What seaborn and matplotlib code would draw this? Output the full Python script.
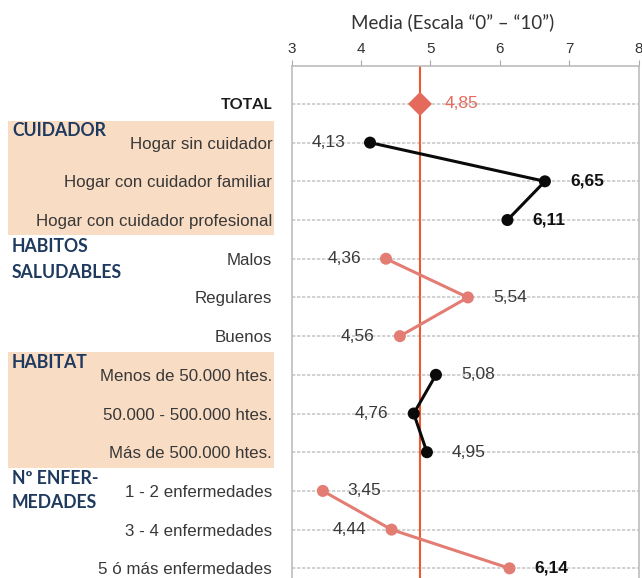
import pandas as pd
import matplotlib.pyplot as plt
import seaborn as sns
from matplotlib.patches import Rectangle

# Data
row_labels = ["TOTAL",
              "Hogar sin cuidador", "Hogar con cuidador familiar", "Hogar con cuidador profesional",
              "Malos", "Regulares", "Buenos",
              "Menos de 50.000 htes.", "50.000 - 500.000 htes.", "Más de 500.000 htes.",
              "1 - 2 enfermedades", "3 - 4 enfermedades", "5 ó más enfermedades"]
total = 4.85
cuidador = [4.13, 6.65, 6.11]
habitos = [4.36, 5.54, 4.56]
habitat = [5.08, 4.76, 4.95]
enfermedades = [3.45, 4.44, 6.14]
x_ticks = [3, 4, 5, 6, 7, 8]
title = "Media (Escala “0” – “10”)"

# label placement / weight per point (rows 1..12)
side = ["L", "R", "R", "L", "R", "L", "R", "L", "R", "R", "L", "R"]
bold = [False, True, True, False, False, False, False, False, False, False, False, True]

groups = ["cuidador", "habitos", "habitat", "enfermedades"]
df = pd.DataFrame({
    "group": [g for g in groups for _ in range(3)],
    "value": cuidador + habitos + habitat + enfermedades,
    "pos": list(range(1, 13)),
})

black = "#0a0a0a"
salmon = "#e37d74"
palette = {"cuidador": black, "habitos": salmon, "habitat": black, "enfermedades": salmon}

sns.set_style("white")
fig = plt.figure(figsize=(6.42, 5.78), dpi=100)
ax = fig.add_axes([291.6 / 642, 0, (638.6 - 291.6) / 642, 1 - 66 / 578])

# shaded group boxes behind the labels
for y0, y1 in [(120.7, 235), (351.7, 467.7)]:
    fig.patches.append(Rectangle((8 / 642, 1 - y1 / 578), 266 / 642, (y1 - y0) / 578,
                                 transform=fig.transFigure, facecolor="#f9dcc4",
                                 edgecolor="none", zorder=-1))

for p in range(len(row_labels)):
    ax.axhline(p, color="#c9c9c9", lw=1.2, ls=(0, (2, 1)), zorder=1)
ax.axvline(total, color="#f0562f", lw=1.5, zorder=2)

sns.lineplot(data=df, x="value", y="pos", hue="group", palette=palette, sort=False,
             estimator=None, lw=2.2, legend=False, ax=ax, zorder=3)
sns.scatterplot(data=df, x="value", y="pos", hue="group", palette=palette, s=75,
                edgecolor="none", legend=False, ax=ax, zorder=4)
sns.scatterplot(x=[total], y=[0], marker="D", s=150, color="#e46a5c", edgecolor="none",
                ax=ax, zorder=4)

ax.annotate(f"{total:.2f}".replace(".", ","), (total, 0), xytext=(18, 0),
            textcoords="offset points", ha="left", va="center", fontsize=12.5,
            color="#e46a5c", family="Liberation Sans")
for i, row in df.iterrows():
    dx = 18 if side[i] == "R" else -18
    ax.annotate(f"{row['value']:.2f}".replace(".", ","), (row["value"], row["pos"]),
                xytext=(dx, 0), textcoords="offset points",
                ha="left" if side[i] == "R" else "right", va="center", fontsize=12.5,
                color="#111111" if bold[i] else "#3a3a3a",
                fontweight="bold" if bold[i] else "normal", family="Liberation Sans")

ax.set_xlim(3, 8)
ax.set_ylim(12.25, -0.98)
ax.set_xticks(x_ticks)
ax.xaxis.tick_top()
ax.tick_params(axis="x", length=4, color="#aaaaaa", labelsize=11, labelcolor="#333333", pad=3)
ax.set_yticks(range(len(row_labels)))
ax.set_yticklabels(row_labels, fontsize=12.2, color="#383838", family="Liberation Sans")
ax.tick_params(axis="y", length=0, pad=14)
tl = ax.get_yticklabels()[0]
tl.set_fontweight("bold")
tl.set_family("Lato")
tl.set_fontsize(11.5)
tl.set_color("#1a1a1a")
for lab in ax.get_xticklabels():
    lab.set_family("Liberation Sans")
ax.set_xlabel("")
ax.set_ylabel("")
for s in ["left", "top", "right"]:
    ax.spines[s].set_color("#bdbdbd")
    ax.spines[s].set_linewidth(1.2)
ax.spines["bottom"].set_visible(False)

fig.text(453 / 642, 1 - 22 / 578, title, ha="center", va="center", fontsize=13.5,
         color="#333333", family="Lato")

navy = "#1f3a5f"
headers = [("CUIDADOR", 130), ("HABITOS", 247), ("SALUDABLES", 272), ("HABITAT", 362),
           ("Nº ENFER-", 479), ("MEDADES", 503)]
for txt, y in headers:
    fig.text(12 / 642, 1 - y / 578, txt, ha="left", va="center", fontsize=12.7,
             fontweight="bold", color=navy, family="Lato")

fig.savefig("out.png", dpi=100)
